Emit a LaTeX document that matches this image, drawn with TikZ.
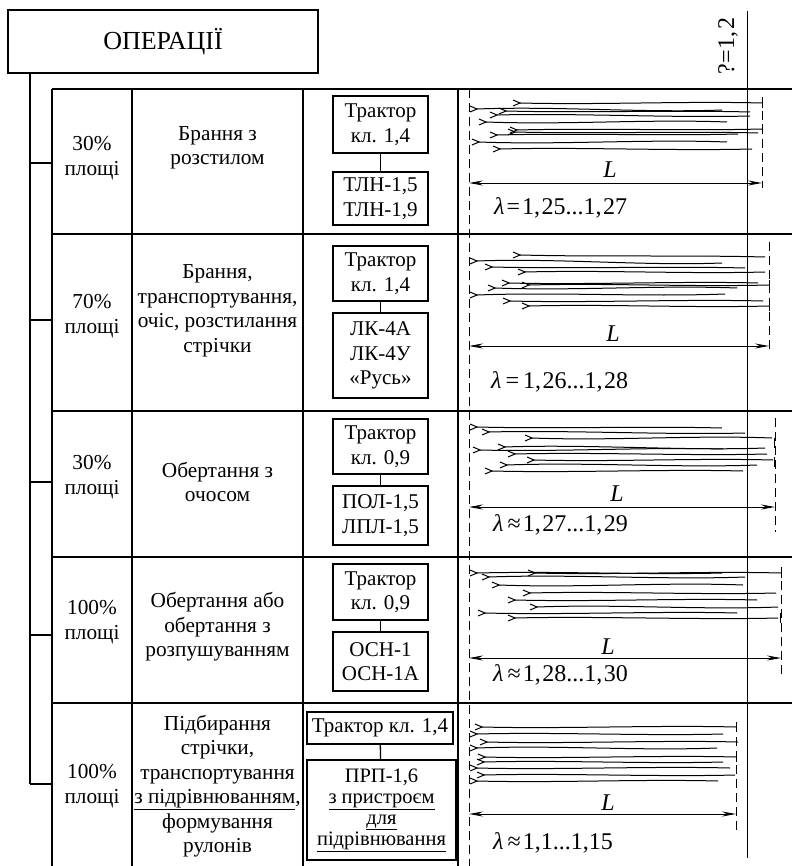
\documentclass[tikz,border=0pt]{standalone}
\usepackage{fontspec}
\setmainfont{Liberation Serif}
\usetikzlibrary{arrows.meta}

% one fibre: a small fork at the butt end, then a gently waved stem
\newcommand\fibreline[5]{%
  \draw[fibre] (#1,#2-3) .. controls (#1+3,#2-2) .. (#1+7,#2)
                         .. controls (#1+3,#2+2) .. (#1,#2+3);
  \draw[fibre] (#1+7,#2) .. controls +(80,#5) and +(-80,-#5) .. (#3,#4);
}
% short stop mark where a fibre meets the limit line
\newcommand\stopmark[2]{\draw[fibre] (#1,#2-5) -- (#1,#2+5);}

\begin{document}
\begin{tikzpicture}[x=1pt,y=-1pt,
  grid/.style={line width=1.8pt},
  bus/.style={line width=1.8pt},
  cell/.style={align=center,inner sep=0pt,font=\fontsize{21.3}{24.5}\selectfont},
  machine/.style={draw,line width=1.3pt,align=center,inner sep=0pt,
                  minimum width=95pt,font=\fontsize{21}{24.5}\selectfont},
  link/.style={line width=1.3pt},
  guide/.style={line width=1pt,dash pattern=on 9pt off 5pt},
  fibre/.style={line width=1pt},
  dim/.style={line width=0.9pt,
              {Stealth[length=14pt,width=5pt]}-{Stealth[length=14pt,width=5pt]}},
  lengthlabel/.style={inner sep=0pt,font=\fontsize{24}{26}\selectfont\itshape},
  ratio/.style={anchor=west,inner sep=0pt,font=\fontsize{24}{26}\selectfont},
]
\useasboundingbox (0,0) rectangle (792,866);

% ---------- heading and the bus that feeds every row ----------
\node[draw,line width=1.6pt,minimum width=310pt,minimum height=63pt,
      inner sep=0pt,font=\fontsize{26}{28}\selectfont] (head) at (163,41.5) {ОПЕРАЦІЇ};
\coordinate (busTop) at (30,73);
\coordinate (busEnd) at (30,784);
\draw[bus] (busTop) -- (busEnd);
\foreach \yy/\nm in {163/b1,320/b2,482/b3,635/b4,784/b5}{
  \coordinate (\nm s) at (30,\yy);
  \coordinate (\nm e) at (52,\yy);
  \draw[bus] (\nm s) -- (\nm e);
}

% ---------- table frame ----------
\foreach \yy in {89,234,411,557,703}
  \draw[grid] (52,\yy) -- (792,\yy);
\foreach \xx in {52,132,303,458}
  \draw[grid] (\xx,89) -- (\xx,866);

% reference line of the drafting ratio
\draw[line width=1.1pt] (747.5,11) -- (747.5,858);
\node[rotate=90,inner sep=0pt,font=\fontsize{24}{26}\selectfont] (ratiohead) at (728,46) {?=\hspace{1pt}1,\hspace{1.5pt}2};

% left limit of the swath (common to all rows)
\draw[guide] (469,89) -- (469,866);

% ---------- row 1 ----------
\node[cell] (a1) at (92,158) {30\%\\площі};
\node[cell] (o1) at (217.5,148) {Брання з\\розстилом};
\node[machine,minimum height=57pt] (t1) at (380.5,124.5) {Трактор\\кл. 1,4};
\node[machine,minimum height=53pt] (m1) at (380.5,198.5) {ТЛН-1,5\\ТЛН-1,9};
\draw[link] (t1) -- (m1);

% ---------- row 2 ----------
\node[cell] (a2) at (92,316) {70\%\\площі};
\node[cell] (o2) at (217.5,311) {Брання,\\транспортування,\\очіс, розстилання\\стрічки};
\node[machine,minimum height=55pt] (t2) at (380.5,273.5) {Трактор\\кл. 1,4};
\node[machine,minimum height=85pt] (m2) at (380.5,355.5) {ЛК-4А\\ЛК-4У\\«Русь»};
\draw[link] (t2) -- (m2);

% ---------- row 3 ----------
\node[cell] (a3) at (92,477) {30\%\\площі};
\node[cell] (o3) at (217.5,482) {Обертання з\\очосом};
\node[machine,minimum height=55pt] (t3) at (380.5,446.5) {Трактор\\кл. 0,9};
\node[machine,minimum height=59pt] (m3) at (380.5,515.5) {ПОЛ-1,5\\ЛПЛ-1,5};
\draw[link] (t3) -- (m3);

% ---------- row 4 ----------
\node[cell] (a4) at (92,622) {100\%\\площі};
\node[cell] (o4) at (217.5,627) {Обертання або\\обертання з\\розпушуванням};
\node[machine,minimum height=56pt] (t4) at (380.5,592) {Трактор\\кл. 0,9};
\node[machine,minimum height=59pt] (m4) at (380.5,661.5) {ОСН-1\\ОСН-1А};
\draw[link] (t4) -- (m4);

% ---------- row 5 ----------
\node[cell] (a5) at (92,786) {100\%\\площі};
\node[cell] (o5) at (217.5,786) {Підбирання\\стрічки,\\транспортування\\\underline{з підрівнюванням},\\формування\\рулонів};
\node[machine,minimum width=146pt,minimum height=32pt] (t5) at (380,728) {Трактор кл. 1,4};
\node[machine,line width=1.8pt,minimum width=149pt,minimum height=100pt,
      font=\fontsize{20.5}{21}\selectfont] (m5) at (381.5,810)
     {ПРП-1,6\\\underline{з пристроєм}\\\underline{для}\\\underline{підрівнювання}};
\draw[link] (t5) -- (m5);

% ---------- swath sketches ----------
% row 1
\draw[guide] (762,97) -- (762,188);
\fibreline{513}{103}{762}{103}{2}   \stopmark{762}{103}
\fibreline{470}{109}{722}{110}{-3}
\fibreline{499}{111}{750}{112}{2}
\fibreline{490}{115}{750}{116}{-2}
\fibreline{479}{122}{727}{122}{3}
\fibreline{510}{130}{762}{129}{-2}  \stopmark{762}{129}
\fibreline{508}{132}{758}{133}{2}
\fibreline{490}{135}{738}{134}{-2}
\fibreline{472}{142}{727}{142}{3}
\fibreline{493}{149}{752}{149}{-2}
\coordinate (d1l) at (469,183);
\coordinate (d1r) at (762,183);
\draw[dim] (d1l) -- (d1r);
\node[lengthlabel] (L1) at (610,170) {L};
\node[ratio] (r1) at (494,208) {\textit{λ}\hspace{2pt}=\hspace{2pt}1,\hspace{1.5pt}25...1,\hspace{1.5pt}27};

% row 2
\draw[guide] (769,242) -- (769,352);
\fibreline{513}{255}{765}{257}{2}
\fibreline{470}{261}{722}{263}{-3}
\fibreline{485}{267}{745}{268}{2}
\fibreline{518}{272}{765}{272}{-2}
\fibreline{502}{283}{758}{283}{2}
\fibreline{522}{285}{769}{285}{-2}  \stopmark{769}{285}
\fibreline{488}{288}{737}{288}{3}
\fibreline{470}{295}{725}{294}{-3}
\fibreline{503}{301}{763}{301}{2}
\fibreline{522}{306}{769}{306}{-2}  \stopmark{769}{306}
\coordinate (d2l) at (469,346);
\coordinate (d2r) at (769,346);
\draw[dim] (d2l) -- (d2r);
\node[lengthlabel] (L2) at (613,334) {L};
\node[ratio] (r2) at (491,382) {\textit{λ}\hspace{4pt}=\hspace{4pt}1,\hspace{1.5pt}26...1,\hspace{1.5pt}28};

% row 3
\draw[guide] (775,418) -- (775,532);
\fibreline{470}{427}{722}{428}{2}
\fibreline{482}{432}{745}{433}{-2}
\fibreline{525}{438}{772}{438}{3}   \stopmark{774}{443}
\fibreline{498}{447}{765}{448}{-3}
\fibreline{473}{450}{723}{449}{2}
\fibreline{508}{454}{767}{454}{-2}
\fibreline{527}{460}{773}{460}{2}   \stopmark{774}{462}
\fibreline{500}{465}{757}{465}{-3}
\fibreline{485}{471}{743}{471}{2}
\coordinate (d3l) at (469,507);
\coordinate (d3r) at (775,507);
\draw[dim] (d3l) -- (d3r);
\node[lengthlabel] (L3) at (617,494) {L};
\node[ratio] (r3) at (493,525) {\textit{λ}\hspace{4pt}≈\hspace{2pt}1,\hspace{1.5pt}27...1,\hspace{1.5pt}29};

% row 4
\draw[guide] (781,567) -- (781,677);
\fibreline{470}{573}{722}{573}{-2}
\fibreline{528}{573}{781}{573}{2}   \stopmark{781}{573}
\fibreline{482}{577}{745}{577}{-3}
\fibreline{492}{585}{743}{585}{3}
\fibreline{523}{593}{776}{593}{-2}
\fibreline{508}{600}{757}{600}{2}
\fibreline{530}{607}{778}{607}{-3}
\fibreline{478}{613}{737}{613}{2}
\fibreline{508}{618}{778}{618}{-2}  \stopmark{780}{618}
\coordinate (d4l) at (469,658);
\coordinate (d4r) at (781,658);
\draw[dim] (d4l) -- (d4r);
\node[lengthlabel] (L4) at (608,647) {L};
\node[ratio] (r4) at (493,675) {\textit{λ}\hspace{4pt}≈\hspace{2pt}1,\hspace{1.5pt}28...1,\hspace{1.5pt}30};

% row 5
\draw[guide] (736,723) -- (736,833);
\fibreline{475}{727}{736}{727}{2}   \stopmark{736}{727}
\fibreline{470}{734}{723}{734}{-2}
\fibreline{480}{742}{738}{742}{2}
\fibreline{470}{748}{717}{748}{-3}
\fibreline{478}{757}{736}{757}{2}   \stopmark{736}{757}
\fibreline{477}{762}{723}{762}{-2}
\fibreline{470}{768}{730}{768}{2}
\fibreline{477}{775}{735}{775}{-2}
\fibreline{470}{781}{718}{781}{2}
\coordinate (d5l) at (469,814);
\coordinate (d5r) at (736,814);
\draw[dim] (d5l) -- (d5r);
\node[lengthlabel] (L5) at (608,803) {L};
\node[ratio] (r5) at (493,843) {\textit{λ}\hspace{4pt}≈\hspace{2pt}1,1...1,15};
\end{tikzpicture}
\end{document}
